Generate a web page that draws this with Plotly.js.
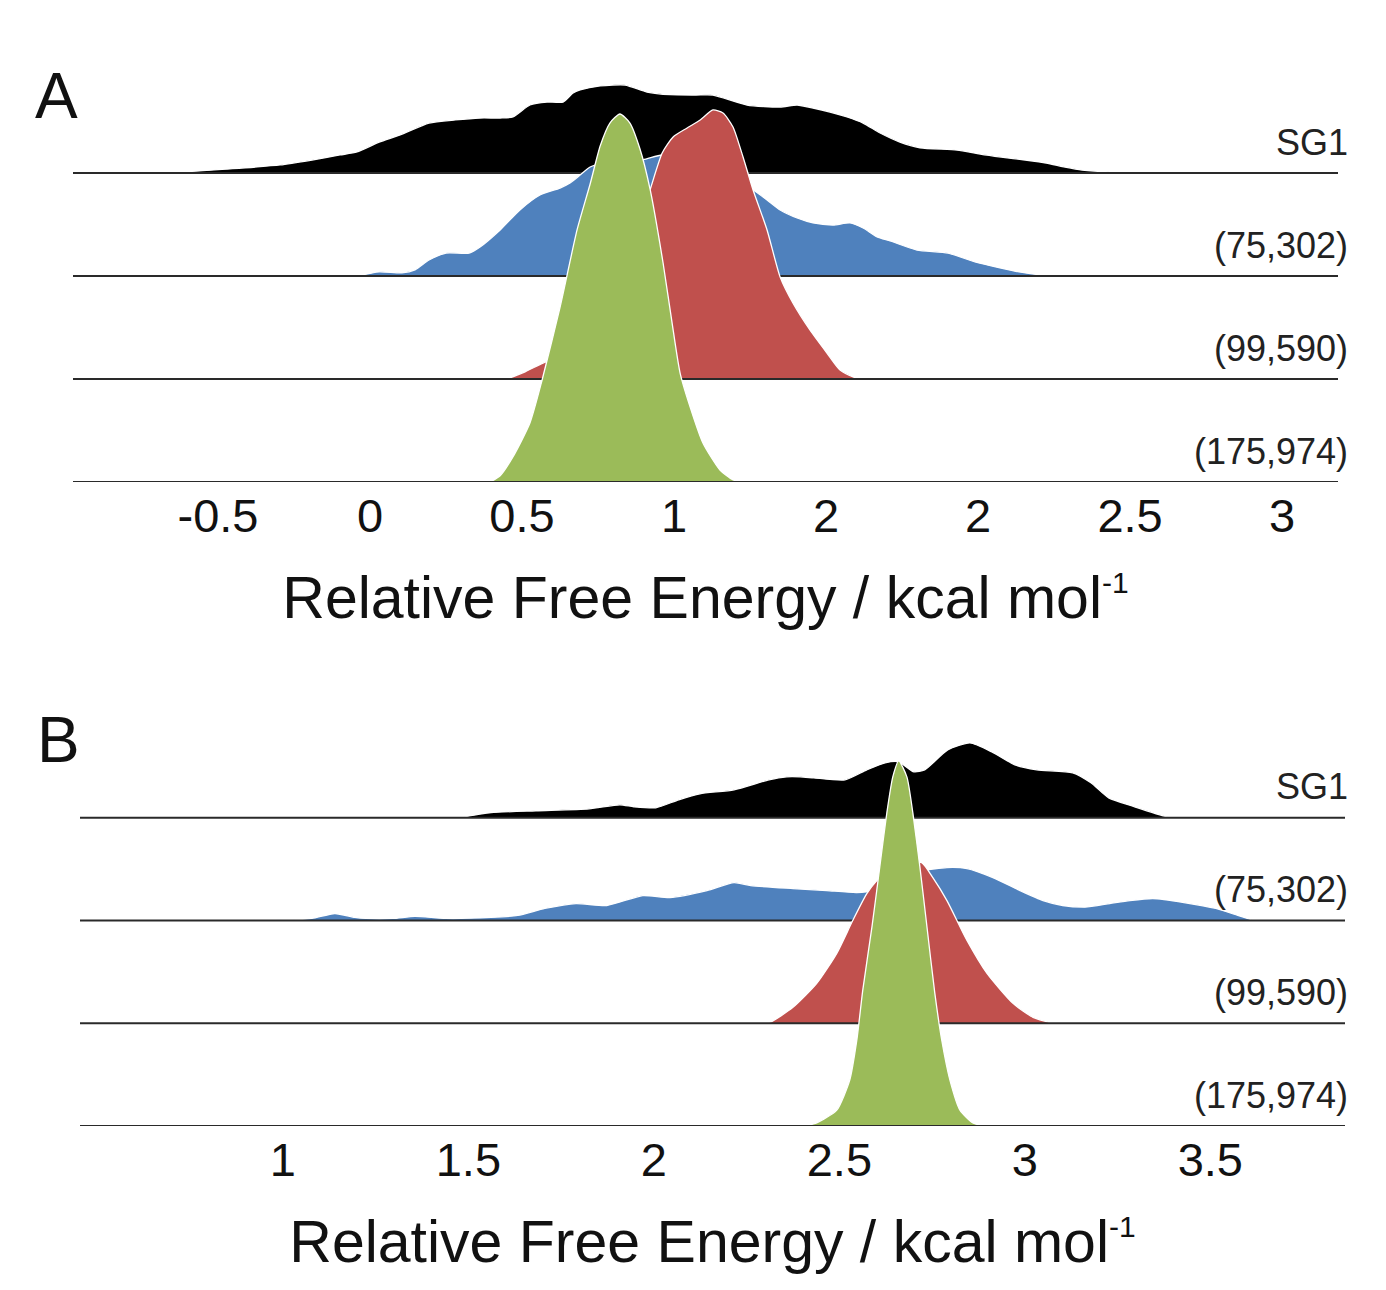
<!DOCTYPE html>
<html>
<head>
<meta charset="utf-8">
<script src="https://cdn.plot.ly/plotly-3.0.1.min.js"></script>
<style>
html,body{margin:0;padding:0;background:#ffffff;}
#chart{width:1386px;height:1290px;}
</style>
</head>
<body>
<div id="chart"></div>
<script>
// ---------- categories / labels ----------
const rowLabels = ['SG1', '(75,302)', '(99,590)', '(175,974)'];
const rowColors = ['#000000', '#4F81BD', '#C0504D', '#9BBB59'];
const rowOffsets = [3, 2, 1, 0];
const panelLabels = ['A', 'B'];
const axisTitleText = 'Relative Free Energy / kcal mol<sup><span style="font-size:30px">-1</span></sup>';

// ---------- tick labels ----------
const tickValsA = [-0.5, 0, 0.5, 1, 1.5, 2, 2.5, 3];
const tickTextA = ['-0.5', '0', '0.5', '1', '2', '2', '2.5', '3'];
const tickValsB = [1, 1.5, 2, 2.5, 3, 3.5];
const tickTextB = ['1', '1.5', '2', '2.5', '3', '3.5'];
const xRangeA = [-0.977, 3.184];
const xRangeB = [0.453, 3.863];

// ---------- panel A densities (x = energy, h = ridge height in row units) ----------
const aSG1_x = [-0.691,-0.645,-0.461,-0.296,-0.191,-0.099,-0.043,0.030,0.099,0.194,0.280,0.362,0.428,0.470,0.526,0.582,0.635,0.668,0.691,0.757,0.839,0.911,0.987,1.072,1.128,1.240,1.349,1.405,1.457,1.513,1.569,1.622,1.678,1.743,1.809,1.931,2.007,2.076,2.155,2.224,2.286,2.342,2.434,2.566,2.678];
const aSG1_h = [0,0.005,0.04,0.078,0.126,0.175,0.204,0.30,0.37,0.485,0.515,0.534,0.534,0.544,0.66,0.689,0.689,0.777,0.806,0.845,0.854,0.786,0.76,0.757,0.757,0.66,0.641,0.66,0.631,0.592,0.544,0.485,0.388,0.30,0.245,0.223,0.184,0.155,0.126,0.097,0.058,0.029,0.01,0.005,0];

const a75_x = [-0.043,0.030,0.105,0.148,0.194,0.250,0.326,0.362,0.428,0.493,0.559,0.625,0.658,0.691,0.724,0.806,0.898,0.961,1.053,1.151,1.260,1.306,1.349,1.405,1.457,1.523,1.579,1.622,1.668,1.711,1.799,1.901,1.990,2.072,2.135,2.204,2.266];
const a75_h = [0,0.04,0.03,0.06,0.155,0.223,0.223,0.282,0.447,0.641,0.786,0.854,0.903,0.98,1.058,1.12,1.13,1.175,1.1,0.98,0.835,0.738,0.641,0.563,0.515,0.495,0.515,0.466,0.379,0.34,0.252,0.223,0.136,0.078,0.039,0.01,0];

const a99_x = [0.451,0.510,0.569,0.625,0.691,0.757,0.822,0.878,0.921,0.961,0.997,1.043,1.086,1.128,1.161,1.194,1.227,1.260,1.306,1.349,1.391,1.447,1.503,1.546,1.589,1.618];
const a99_h = [0,0.07,0.155,0.22,0.35,0.6,1.0,1.45,1.835,2.194,2.35,2.437,2.515,2.612,2.583,2.447,2.155,1.835,1.447,0.99,0.738,0.476,0.252,0.087,0.02,0];

const a175_x = [0.395,0.428,0.470,0.526,0.566,0.625,0.681,0.724,0.757,0.789,0.822,0.855,0.888,0.921,0.964,0.997,1.020,1.053,1.095,1.151,1.194,1.234];
const a175_h = [0,0.06,0.243,0.573,0.99,1.696,2.447,2.893,3.262,3.485,3.573,3.485,3.233,2.845,2.126,1.476,1.058,0.728,0.379,0.117,0.02,0];

// ---------- panel B densities ----------
const bSG1_x = [1.477,1.561,1.682,1.825,1.908,1.946,2.005,2.067,2.124,2.216,2.310,2.358,2.394,2.431,2.515,2.574,2.623,2.660,2.701,2.730,2.792,2.852,2.911,2.973,3.032,3.129,3.178,3.226,3.296,3.383,3.404];
const bSG1_h = [0,0.049,0.068,0.087,0.126,0.107,0.097,0.175,0.233,0.272,0.369,0.398,0.398,0.388,0.369,0.466,0.534,0.544,0.447,0.466,0.66,0.728,0.641,0.515,0.466,0.437,0.34,0.194,0.107,0.01,0];

const b75_x = [0.884,0.943,1.019,1.078,1.140,1.194,1.224,1.296,1.356,1.439,1.561,1.633,1.706,1.790,1.873,1.970,2.043,2.143,2.216,2.261,2.375,2.466,2.547,2.609,2.663,2.725,2.790,2.844,2.914,2.987,3.049,3.102,3.162,3.229,3.283,3.345,3.429,3.515,3.574,3.617];
const b75_h = [0,0.01,0.005,0.02,0.068,0.03,0.02,0.02,0.04,0.02,0.03,0.049,0.117,0.165,0.146,0.243,0.223,0.291,0.369,0.34,0.311,0.291,0.272,0.30,0.40,0.485,0.515,0.505,0.417,0.291,0.194,0.146,0.13,0.165,0.194,0.214,0.175,0.117,0.049,0];

const b99_x = [2.286,2.313,2.375,2.439,2.493,2.536,2.574,2.601,2.636,2.677,2.722,2.752,2.790,2.844,2.898,2.968,3.022,3.075];
const b99_h = [0,0.01,0.155,0.388,0.68,1.0,1.262,1.388,1.5,1.57,1.563,1.417,1.194,0.806,0.485,0.194,0.058,0];

const b175_x = [2.407,2.439,2.493,2.528,2.547,2.563,2.588,2.609,2.628,2.644,2.660,2.682,2.698,2.717,2.736,2.757,2.776,2.798,2.825,2.860,2.892];
const b175_h = [0,0.03,0.155,0.447,0.835,1.32,1.942,2.524,3.049,3.398,3.553,3.398,3.049,2.524,1.942,1.30,0.835,0.447,0.155,0.03,0];

// ---------- build ----------
const panels = [
  {xa: 'x', ya: 'y', range: xRangeA, xs: [aSG1_x, a75_x, a99_x, a175_x], hs: [aSG1_h, a75_h, a99_h, a175_h]},
  {xa: 'x2', ya: 'y2', range: xRangeB, xs: [bSG1_x, b75_x, b99_x, b175_x], hs: [bSG1_h, b75_h, b99_h, b175_h]}
];

const traces = [];
panels.forEach(p => {
  for (let i = 0; i < rowLabels.length; i++) {
    const off = rowOffsets[i];
    traces.push({
      type: 'scatter', mode: 'lines', name: rowLabels[i],
      x: p.xs[i], y: p.hs[i].map(h => h + off),
      xaxis: p.xa, yaxis: p.ya,
      fill: 'toself', fillcolor: rowColors[i],
      line: {color: '#ffffff', width: 1.3, shape: 'spline', smoothing: 0.6},
      hoverinfo: 'skip', showlegend: false
    });
    traces.push({
      type: 'scatter', mode: 'lines', name: rowLabels[i] + ' baseline',
      x: p.range, y: [off, off],
      xaxis: p.xa, yaxis: p.ya,
      line: {color: '#2a2a2a', width: 2},
      hoverinfo: 'skip', showlegend: false
    });
  }
});

const W = 1386, H = 1290;
const FONT = 'Liberation Sans, Arial, Helvetica, sans-serif';

function xAxis(domain, range, anchor, vals, text) {
  return {
    domain: domain, range: range, anchor: anchor,
    tickmode: 'array', tickvals: vals, ticktext: text,
    tickfont: {family: FONT, size: 47, color: '#111111'},
    ticks: '', ticklabelstandoff: 2,
    showline: false, showgrid: false, zeroline: false, fixedrange: true,
    title: {text: axisTitleText, font: {family: FONT, size: 59, color: '#111111'}, standoff: 35}
  };
}
function yAxis(domain) {
  return {domain: domain, range: [0, 4], visible: false, fixedrange: true,
          showgrid: false, zeroline: false};
}

const annotations = [];
// panel letters
[[33, 96], [35, 740]].forEach((pos, k) => {
  annotations.push({
    text: panelLabels[k], xref: 'paper', yref: 'paper',
    x: pos[0] / W, y: 1 - pos[1] / H, xanchor: 'left', yanchor: 'middle',
    showarrow: false, font: {family: FONT, size: 64, color: '#111111'}
  });
});
// row labels
['y', 'y2'].forEach(ya => {
  for (let i = 0; i < rowLabels.length; i++) {
    annotations.push({
      text: rowLabels[i], xref: 'paper', yref: ya,
      x: 1350 / W, y: rowOffsets[i], xanchor: 'right', yanchor: 'middle',
      yshift: 31, showarrow: false,
      font: {family: FONT, size: 36, color: '#222222'}
    });
  }
});

const layout = {
  width: W, height: H,
  margin: {l: 0, r: 0, t: 0, b: 0},
  paper_bgcolor: '#ffffff', plot_bgcolor: 'rgba(0,0,0,0)',
  showlegend: false,
  xaxis: xAxis([73 / W, 1338 / W], xRangeA, 'y', tickValsA, tickTextA),
  yaxis: yAxis([1 - 482 / H, 1 - 70 / H]),
  xaxis2: xAxis([80 / W, 1345 / W], xRangeB, 'y2', tickValsB, tickTextB),
  yaxis2: yAxis([1 - 1126 / H, 1 - 715 / H]),
  annotations: annotations
};

Plotly.newPlot('chart', traces, layout, {displayModeBar: false, staticPlot: true});
</script>
</body>
</html>
